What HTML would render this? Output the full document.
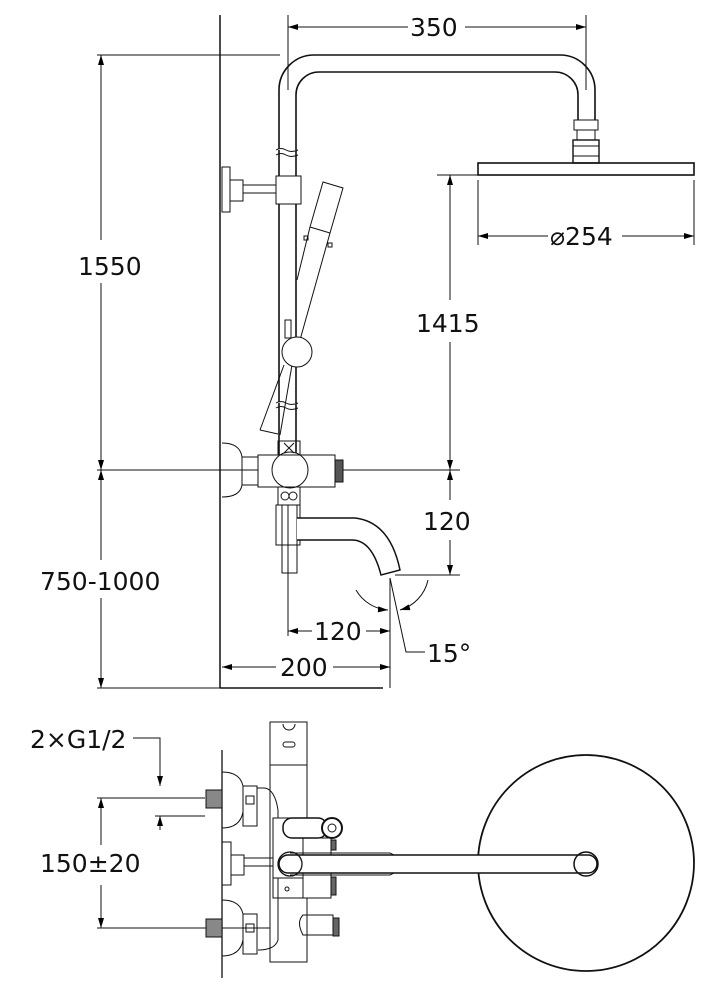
<!DOCTYPE html>
<html><head><meta charset="utf-8"><style>html,body{margin:0;padding:0;background:#fff}svg{display:block}text{font-family:"DejaVu Sans","Liberation Sans",sans-serif;font-size:25px;fill:#111}</style></head>
<body>
<svg width="720" height="1000" viewBox="0 0 720 1000" xmlns="http://www.w3.org/2000/svg">
<defs>
<marker id="a" viewBox="0 0 10 6" refX="10" refY="3" markerWidth="12" markerHeight="6" orient="auto-start-reverse" markerUnits="userSpaceOnUse"><path d="M0,0L10,3L0,6z" fill="#000"/></marker>
</defs>
<g fill="none" stroke="#111" stroke-width="1">
<!-- wall & floor -->
<line x1="220" y1="15" x2="220" y2="688" stroke-width="1.5"/>
<line x1="220" y1="688" x2="383" y2="688" stroke-width="1.5"/>
<!-- extension lines -->
<line x1="97" y1="55" x2="280" y2="55"/>
<line x1="97" y1="470" x2="460" y2="470"/>
<line x1="97" y1="688" x2="220" y2="688"/>
<line x1="101" y1="55" x2="101" y2="240" marker-start="url(#a)"/>
<line x1="101" y1="283" x2="101" y2="470" marker-end="url(#a)"/>
<line x1="101" y1="470" x2="101" y2="560" marker-start="url(#a)"/>
<line x1="101" y1="598" x2="101" y2="688" marker-end="url(#a)"/>
<!-- 350 -->
<line x1="288" y1="15" x2="288" y2="90"/>
<line x1="586" y1="15" x2="586" y2="90"/>
<line x1="288" y1="27" x2="408" y2="27" marker-start="url(#a)"/>
<line x1="465" y1="27" x2="586" y2="27" marker-end="url(#a)"/>
<!-- 254 -->
<line x1="478" y1="180" x2="478" y2="245"/>
<line x1="694" y1="180" x2="694" y2="245"/>
<line x1="478" y1="236" x2="548" y2="236" marker-start="url(#a)"/>
<line x1="622" y1="236" x2="694" y2="236" marker-end="url(#a)"/>
<!-- 1415 -->
<line x1="437" y1="175" x2="478" y2="175"/>
<line x1="450" y1="175" x2="450" y2="300" marker-start="url(#a)"/>
<line x1="450" y1="342" x2="450" y2="470" marker-end="url(#a)"/>
<!-- 120 vertical -->
<line x1="450" y1="470" x2="450" y2="500" marker-start="url(#a)"/>
<line x1="450" y1="540" x2="450" y2="575" marker-end="url(#a)"/>
<line x1="395" y1="575" x2="460" y2="575"/>
<!-- bottom 120, 200 -->
<line x1="288" y1="505" x2="288" y2="636"/>
<line x1="390" y1="578" x2="390" y2="688"/>
<line x1="288" y1="631" x2="312" y2="631" marker-start="url(#a)"/>
<line x1="366" y1="631" x2="390" y2="631" marker-end="url(#a)"/>
<line x1="222" y1="667" x2="276" y2="667" marker-start="url(#a)"/>
<line x1="333" y1="667" x2="390" y2="667" marker-end="url(#a)"/>
<!-- 15 deg -->
<path d="M356,590 A40,40 0 0 0 388,610" marker-end="url(#a)"/>
<path d="M428,580 A40,40 0 0 1 400,610" marker-end="url(#a)"/>
<polyline points="390,578 406,652 425,652"/>
<!-- pipe -->
<path d="M279,455 L279,90 A35,35 0 0 1 314,55 L560,55 A35,35 0 0 1 595,90 L595,120" stroke-width="1.6"/>
<path d="M296,455 L296,95 A23,23 0 0 1 319,72 L555,72 A23,23 0 0 1 578,95 L578,120" stroke-width="1.6"/>
<path d="M276,150 q5,-3 10,0 t12,0" fill="#fff"/><path d="M276,155 q5,-3 10,0 t12,0"/>
<path d="M276,403 q5,-3 10,0 t12,0" fill="#fff"/><path d="M276,408 q5,-3 10,0 t12,0"/>
<rect x="574" y="120" width="24" height="10"/>
<rect x="577" y="130" width="18" height="10"/>
<rect x="573" y="140" width="26" height="23" stroke-width="1.4"/>
<line x1="573" y1="146" x2="599" y2="146"/><line x1="573" y1="156" x2="599" y2="156"/>
<rect x="478" y="163" width="216" height="12" stroke-width="1.6"/>
<!-- bracket -->
<rect x="222" y="167" width="8" height="45"/>
<rect x="230" y="180" width="13" height="21"/>
<rect x="243" y="185" width="33" height="8"/>
<rect x="276" y="176" width="25" height="28" fill="#fff"/>
<!-- hand shower -->
<polygon points="323,182 343,188 330,233 310,227" fill="#fff"/>
<line x1="310" y1="227" x2="297" y2="280"/>
<line x1="330" y1="233" x2="300" y2="340"/>
<rect x="304" y="236" width="4" height="4"/><rect x="328" y="243" width="4" height="4"/>
<line x1="284" y1="365" x2="260" y2="430"/>
<line x1="292" y1="365" x2="280" y2="435"/>
<line x1="260" y1="430" x2="278" y2="434"/>
<rect x="285" y="320" width="6" height="18"/>
<circle cx="297" cy="352" r="15" fill="#fff"/>
<!-- mixer -->
<path d="M222,443 Q240,443 242,457 L242,485 Q240,497 222,497"/>
<rect x="242" y="457" width="16" height="28"/>
<rect x="258" y="455" width="77" height="32" fill="#fff"/>
<rect x="335" y="460" width="8" height="22" fill="#555"/>
<circle cx="290" cy="470" r="18" fill="#fff"/>
<rect x="278" y="441" width="22" height="14"/>
<path d="M284,443 l10,10 M294,443 l-10,10"/>
<rect x="278" y="487" width="22" height="18"/>
<circle cx="285" cy="496" r="4"/><circle cx="293" cy="496" r="4"/>
<rect x="276" y="505" width="24" height="40"/>
<rect x="282" y="505" width="15" height="68"/>
<path d="M297,518 L355,518 Q390,522 400,570 L381,575 Q372,540 352,540 L297,540" fill="#fff" stroke-width="1.5"/>
<!-- bottom view -->
<line x1="222" y1="750" x2="222" y2="978" stroke-width="1.3"/>
<polyline points="133,738 160,738 160,786" marker-end="url(#a)"/>
<line x1="160" y1="816" x2="160" y2="830" marker-start="url(#a)"/>
<line x1="97" y1="798" x2="205" y2="798"/>
<line x1="155" y1="816" x2="205" y2="816"/>
<line x1="97" y1="928" x2="270" y2="928"/>
<line x1="101" y1="798" x2="101" y2="845" marker-start="url(#a)"/>
<line x1="101" y1="885" x2="101" y2="928" marker-end="url(#a)"/>
<rect x="206" y="790" width="16" height="18" fill="#888"/>
<rect x="206" y="919" width="16" height="18" fill="#888"/>
<path d="M222,772 Q240,772 243,786 L243,812 Q240,828 222,828"/>
<path d="M222,900 Q240,900 243,914 L243,940 Q240,956 222,956"/>
<rect x="243" y="786" width="14" height="40"/><rect x="246" y="796" width="8" height="8"/>
<rect x="243" y="914" width="14" height="40"/><rect x="246" y="924" width="8" height="8"/>
<rect x="222" y="842" width="9" height="43"/>
<rect x="231" y="855" width="13" height="20"/>
<rect x="244" y="858" width="36" height="8"/>
<rect x="270" y="722" width="37" height="240"/>
<line x1="270" y1="765" x2="307" y2="765"/>
<rect x="283" y="742" width="12" height="5" rx="2.5"/>
<path d="M283,724 a6,6 0 0 0 12,0"/>
<path d="M257,788 L265,788 Q275,790 278,810 L278,940 Q275,950 258,950"/>
<rect x="273" y="818" width="38" height="60" fill="#fff"/>
<rect x="273" y="878" width="38" height="20"/>
<circle cx="287" cy="889" r="2"/>
<rect x="303" y="838" width="28" height="60" fill="#fff"/>
<rect x="283" y="818" width="44" height="20" rx="9" fill="#fff" stroke-width="1.5"/>
<circle cx="332" cy="828" r="10" fill="#fff" stroke-width="2"/><circle cx="332" cy="828" r="4"/>
<path d="M303,915 Q296,922 303,935 L333,935 L333,915 Z"/>
<rect x="333" y="918" width="6" height="18" fill="#666"/>
<rect x="331" y="877" width="5" height="18" fill="#666"/>
<rect x="331" y="840" width="5" height="10" fill="#666"/>
<path d="M290,853 L390,853 L398,857 L398,871 L390,875 L290,875"/>
<circle cx="586" cy="863" r="108" stroke-width="1.8"/>
<path d="M288,855 L588,855 A9,9 0 0 1 588,873 L288,873 A9,9 0 0 1 288,855 Z" fill="#fff" stroke-width="1.5"/>
<circle cx="586" cy="864" r="12" stroke-width="1.5"/>
<circle cx="290" cy="864" r="12" stroke-width="1.3"/>
</g>
<text x="78" y="275" font-size="26" fill="#111">1550</text>
<text x="40" y="590">750-1000</text>
<text x="410" y="36">350</text>
<text x="550" y="245">⌀254</text>
<text x="416" y="332">1415</text>
<text x="423" y="530">120</text>
<text x="314" y="640">120</text>
<text x="280" y="676">200</text>
<text x="427" y="662">15°</text>
<text x="30" y="748">2×G1/2</text>
<text x="40" y="872">150±20</text>
</svg>
</body></html>
